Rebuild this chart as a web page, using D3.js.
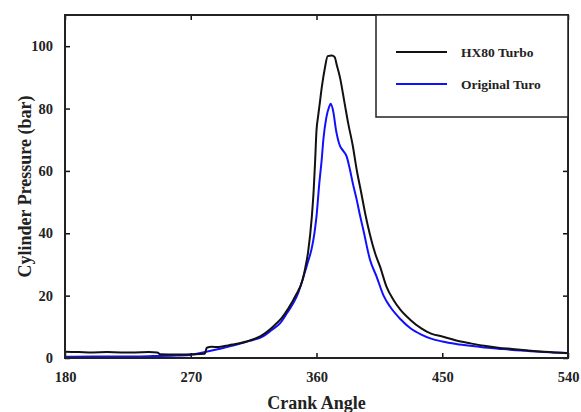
<!DOCTYPE html>
<html>
<head>
<meta charset="utf-8">
<script src="https://cdn.jsdelivr.net/npm/d3@7"></script>
<style>
	body { margin: 0; background: #fff; }
	svg text { font-family: "Liberation Serif", "Times New Roman", serif; font-weight: bold; fill: #222; }
</style>
</head>
<body>
<script>
// crank angle (deg) / pressure (bar)
var hxAngle = [180, 190, 200, 210, 220, 230, 240, 246, 248, 260, 270, 280, 281.5, 285, 290, 295, 300, 310, 320, 330, 335, 340, 345, 350, 352, 354, 356.6, 358, 359, 360, 361, 362, 364, 366, 368, 371, 373, 374.5, 376.8, 380, 382.8, 386, 388.8, 392, 395, 398, 402, 405.5, 410, 415, 420, 427, 435, 442, 450, 460, 470, 480, 490, 500, 510, 520, 530, 540];
var hxPress = [2.0, 1.9, 1.8, 1.9, 1.8, 1.8, 1.9, 1.8, 1.2, 1.1, 1.2, 1.4, 3.3, 3.6, 3.5, 3.9, 4.3, 5.3, 7.0, 10.5, 12.8, 16, 20, 25, 29, 34, 45, 54, 63, 73, 77, 80.5, 87.5, 93, 96.8, 97, 96.5, 94, 90, 82, 75, 68, 60.3, 53, 46, 40, 33.5, 29.3, 23, 18.7, 15.5, 12.3, 9.5, 7.8, 6.9, 5.6, 4.7, 3.9, 3.3, 2.9, 2.5, 2.1, 1.8, 1.5];

var orAngle = [180, 200, 220, 240, 260, 270, 281, 290, 303, 312, 322, 328, 334, 339, 343.4, 347, 350, 352, 354, 356.5, 358.5, 360, 362, 363.7, 364.9, 367, 369, 370.2, 372, 374, 376.8, 379, 381.6, 384, 386, 388.8, 391, 393.5, 398.3, 403, 408, 412.6, 420, 427, 435, 442, 450, 460, 470, 480, 490, 500, 510, 520, 530, 540];
var orPress = [0.4, 0.5, 0.5, 0.6, 0.8, 1.0, 2.0, 2.9, 4.3, 5.5, 7.0, 9, 11.2, 14.5, 17.6, 21, 25, 28, 31, 35, 40, 45.4, 56, 63.5, 70, 77, 80.5, 81.5, 79, 73, 68, 66.5, 64.6, 60.3, 56, 50.7, 46, 41.1, 31.5, 26.1, 20, 16.5, 12.5, 9.6, 7.5, 6.2, 5.3, 4.5, 3.9, 3.4, 3.0, 2.6, 2.3, 2.0, 1.8, 1.6];

var xTicks = [180, 270, 360, 450, 540];
var yTicks = [0, 20, 40, 60, 80, 100];
var seriesNames = ["HX80 Turbo", "Original Turo"];
var seriesColors = ["#111", "#1010ff"];

var margin = { top: 15, right: 13, bottom: 54, left: 65 }
	, width = 581 - margin.left - margin.right
	, height = 412 - margin.top - margin.bottom;

var svg = d3.select("body").append("svg")
	.attr("width", 581)
	.attr("height", 412)
	.append("g")
	.attr("transform", "translate(" + margin.left + "," + margin.top + ")");

var xScale = d3.scaleLinear().domain([180, 540]).range([0, width]);
var yScale = d3.scaleLinear().domain([0, 110]).range([height, 0]);

// axes, ticks pointing inwards on all four sides
function styleAxis(g) {
	g.select(".domain").remove();
	g.selectAll(".tick line").attr("stroke", "#111").attr("stroke-width", 1.5);
	g.selectAll(".tick text").attr("font-size", "14.5px");
}
svg.append("g")
	.attr("transform", "translate(0," + height + ")")
	.call(d3.axisBottom(xScale).tickValues(xTicks).tickSizeInner(-5).tickPadding(14))
	.call(styleAxis);
svg.append("g")
	.call(d3.axisTop(xScale).tickValues(xTicks).tickSizeInner(-5).tickFormat(""))
	.call(styleAxis);
svg.append("g")
	.call(d3.axisLeft(yScale).tickValues(yTicks).tickSizeInner(-5).tickPadding(12))
	.call(styleAxis);
svg.append("g")
	.attr("transform", "translate(" + width + ",0)")
	.call(d3.axisRight(yScale).tickValues(yTicks).tickSizeInner(-5).tickFormat(""))
	.call(styleAxis);

var series = [d3.zip(hxAngle, hxPress), d3.zip(orAngle, orPress)];
var line = d3.line()
	.x(function (d) { return xScale(d[0]); })
	.y(function (d) { return yScale(d[1]); })
	.curve(d3.curveMonotoneX);

// blue drawn first, black on top like the original
[1, 0].forEach(function (i) {
	svg.append("path")
		.datum(series[i])
		.attr("fill", "none")
		.attr("stroke", seriesColors[i])
		.attr("stroke-width", 2)
		.attr("stroke-linejoin", "round")
		.attr("d", line);
});

// frame
svg.append("rect")
	.attr("width", width).attr("height", height)
	.attr("fill", "none").attr("stroke", "#222").attr("stroke-width", 2);

// legend
var lgW = 192, lgH = 102;
var lg = svg.append("g").attr("transform", "translate(" + (width - lgW) + ",0)");
lg.append("rect")
	.attr("width", lgW).attr("height", lgH)
	.attr("fill", "#fff").attr("stroke", "#222").attr("stroke-width", 1.5);
seriesNames.forEach(function (name, i) {
	var y = 37 + i * 32;
	lg.append("line")
		.attr("x1", 20).attr("x2", 71).attr("y1", y).attr("y2", y)
		.attr("stroke", seriesColors[i]).attr("stroke-width", 2);
	lg.append("text")
		.attr("x", 85).attr("y", y + 4.5)
		.attr("font-size", "13.5px")
		.text(name);
});

// axis titles
svg.append("text")
	.attr("x", width / 2).attr("y", height + 51)
	.attr("text-anchor", "middle")
	.attr("font-size", "18px")
	.text("Crank Angle");
svg.append("text")
	.attr("transform", "translate(-34," + (height / 2) + ") rotate(-90)")
	.attr("text-anchor", "middle")
	.attr("font-size", "18px")
	.text("Cylinder Pressure (bar)");
</script>
</body>
</html>
